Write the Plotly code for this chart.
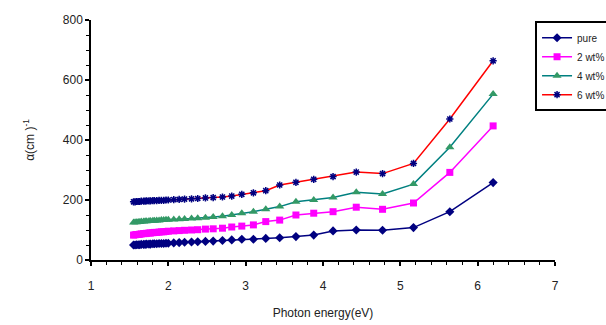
import plotly.graph_objects as go

energy = [1.55, 1.57, 1.59, 1.61, 1.63, 1.65, 1.68, 1.70, 1.72, 1.75, 1.77, 1.80, 1.82, 1.85,
          1.88, 1.91, 1.94, 1.97, 2.00, 2.07, 2.14, 2.21, 2.30, 2.38, 2.48, 2.58, 2.70, 2.82,
          2.95, 3.10, 3.26, 3.44, 3.65, 3.88, 4.13, 4.43, 4.77, 5.17, 5.64, 6.20]

pure = [50, 50, 51, 51, 51, 52, 52, 52, 53, 53, 53, 54, 54, 54, 55, 55, 55, 56,
        56, 57, 58, 59, 60, 61, 62, 63, 65, 67, 69,
        69, 72, 74, 78, 83, 97, 100, 99, 108, 161, 258]
wt2 = [83, 84, 85, 85, 86, 87, 88, 88, 89, 90, 90, 91, 92, 92, 93, 94, 94, 95,
       96, 97, 98, 99, 100, 101, 103, 104, 106, 110, 113,
       117, 128, 133, 150, 156, 161, 176, 169, 190, 292, 447]
wt4 = [125, 126, 126, 127, 127, 128, 128, 129, 129, 130, 130, 131, 131, 132, 132, 133, 133, 134,
       134, 135, 136, 137, 138, 139, 141, 143, 146, 150, 156,
       161, 169, 178, 194, 200, 208, 226, 220, 253, 376, 553]
wt6 = [194, 194, 195, 195, 195, 196, 196, 196, 197, 197, 197, 198, 198, 198, 199, 199, 199, 200,
       200, 201, 202, 203, 204, 205, 207, 208, 210, 213, 219,
       224, 231, 250, 259, 269, 278, 293, 288, 322, 470, 664]

names = ["pure", "2 wt%", "4 wt%", "6 wt%"]

fig = go.Figure()
fig.add_trace(go.Scatter(x=energy, y=pure, name=names[0], mode="lines+markers",
                         line=dict(color="#000080", width=1.5),
                         marker=dict(symbol="diamond", size=7, color="#000080")))
fig.add_trace(go.Scatter(x=energy, y=wt2, name=names[1], mode="lines+markers",
                         line=dict(color="#FF00FF", width=1.5),
                         marker=dict(symbol="square", size=7, color="#FF00FF")))
fig.add_trace(go.Scatter(x=energy, y=wt4, name=names[2], mode="lines+markers",
                         line=dict(color="#008080", width=1.5),
                         marker=dict(symbol="triangle-up", size=8, color="#339966")))
fig.add_trace(go.Scatter(x=energy, y=wt6, name=names[3], mode="lines+markers",
                         line=dict(color="#FF0000", width=1.5),
                         marker=dict(symbol="asterisk-open", size=6, color="#000080",
                                     line=dict(color="#000080", width=1.5))))

axis_font = dict(family="Liberation Sans, Arial", size=12, color="#222")
fig.update_layout(
    width=606, height=325,
    margin=dict(l=91, r=51, t=20, b=65, autoexpand=False),
    paper_bgcolor="white", plot_bgcolor="white",
    font=axis_font,
    showlegend=True,
    legend=dict(x=0.957, y=0.995, xanchor="left", yanchor="top",
                bgcolor="white", bordercolor="black", borderwidth=2,
                font=dict(family="Liberation Sans, Arial", size=10, color="#222"),
                tracegroupgap=0, itemwidth=30),
    xaxis=dict(range=[1, 7], tickvals=[1, 2, 3, 4, 5, 6, 7], showgrid=False, zeroline=False,
               showline=True, linecolor="black", linewidth=1.5,
               ticks="outside", ticklen=4, tickcolor="black", tickwidth=1.5,
               minor=dict(dtick=0.2, ticks="outside", ticklen=3, tickcolor="black", tickwidth=1.2),
               ticklabelstandoff=10,
               title=dict(text="Photon energy(eV)", font=axis_font, standoff=16)),
    yaxis=dict(range=[0, 800], tickvals=[0, 200, 400, 600, 800], showgrid=False, zeroline=False,
               showline=True, linecolor="black", linewidth=1.5,
               ticks="outside", ticklen=4, tickcolor="black", tickwidth=1.5,
               minor=dict(dtick=50, ticks="outside", ticklen=3, tickcolor="black", tickwidth=1.2),
               title=dict(text="α(cm )<sup>-1</sup>", font=axis_font, standoff=26)),
)

fig.write_html("out.html")
